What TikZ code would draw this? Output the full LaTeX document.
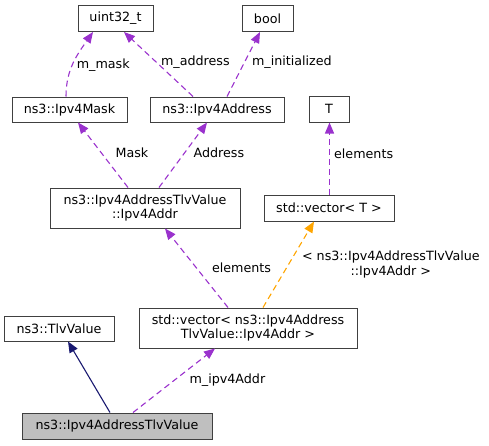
\documentclass[tikz,border=0pt]{standalone}
\usepackage{fontspec}
\setmainfont{DejaVu Sans}
\usetikzlibrary{arrows.meta}
\definecolor{orchid}{RGB}{154,50,205}
\definecolor{navy}{RGB}{25,25,112}
\definecolor{amber}{RGB}{255,165,0}
\begin{document}
\begin{tikzpicture}[x=1pt,y=-1pt,line width=1.1pt,font=\fontsize{12.7}{14.5}\selectfont]
    \tikzstyle{cls}=[draw=black!75,line width=1pt,fill=white,inner sep=0pt,minimum height=26pt,align=center]
    \tikzstyle{member}=[draw=orchid,dash pattern=on 6pt off 4pt,-{Triangle[length=11pt,width=9pt]}]
    \tikzstyle{tmpl}=[draw=amber,dash pattern=on 6pt off 4pt,-{Triangle[length=11pt,width=9pt]}]
    \tikzstyle{inherit}=[draw=navy,-{Triangle[length=11pt,width=9pt]}]
    \tikzstyle{lbl}=[right,inner sep=2pt,text=black,align=center]
    \useasboundingbox (0,0) rectangle (489,445);
    % the classes, top row first
      \node[cls, minimum width=75pt] (uint) at (115.5,18.5) {uint32\_t};
      \node[cls, minimum width=51pt] (bool) at (267.5,18.5) {bool};
      \node[cls, minimum width=115pt,minimum height=25pt] (mask) at (69.5,109.5) {ns3::Ipv4Mask};
      \node[cls, minimum width=134pt,minimum height=25pt] (addr) at (217,109.5) {ns3::Ipv4Address};
      \node[cls, minimum width=40pt] (T) at (329,109) {T};
      \node[cls, minimum width=190pt,minimum height=40pt] (addrval) at (145,208) {ns3::Ipv4AddressTlvValue\\::Ipv4Addr};
      \node[cls, minimum width=130pt] (vecT) at (329,208) {std::vector< T >};
      \node[cls, minimum width=110pt,minimum height=25pt] (tlv) at (59,328.5) {ns3::TlvValue};
      \node[cls, minimum width=218pt,minimum height=40pt] (vecaddr) at (248,328) {std::vector< ns3::Ipv4Address\\TlvValue::Ipv4Addr >};
      \node[cls, minimum width=190pt, fill=black!25] (main) at (117,426) {ns3::Ipv4AddressTlvValue};

      \path ([xshift=-3.5pt]mask.north) edge [member, out=90, in=-125] node [lbl,pos=0.45,xshift=2pt] {m\_mask} ([xshift=-22.5pt]uint.south);
      \path ([xshift=-24pt]addr.north) edge [member] node [lbl,yshift=2pt] {m\_address} ([xshift=8.5pt]uint.south);
      \path ([xshift=10pt]addr.north) edge [member] node [lbl,xshift=6pt,yshift=2pt] {m\_initialized} ([xshift=-7.5pt]bool.south);
      \path ([xshift=-17pt]addrval.north) edge [member] node [lbl,xshift=10pt,yshift=2pt] {Mask} ([xshift=8.5pt]mask.south);
      \path ([xshift=14pt]addrval.north) edge [member] node [lbl,xshift=8pt,yshift=2pt] {Address} ([xshift=-10pt]addr.south);
      \path ([xshift=0.5pt]vecT.north) edge [member, line width=1.3pt] node [lbl,xshift=2pt,yshift=5pt] {elements} ([xshift=0.5pt]T.south);
      \path ([xshift=-20pt]vecaddr.north) edge [member] node [lbl,xshift=13pt] {elements} ([xshift=20pt]addrval.south);
      \path ([xshift=15pt]vecaddr.north) edge [tmpl] node [lbl,xshift=11pt] {< ns3::Ipv4AddressTlvValue\\::Ipv4Addr >} ([xshift=-15pt]vecT.south);
      \path ([xshift=-7pt]main.north) edge [inherit] ([xshift=9pt]tlv.south);
      \path ([xshift=16pt]main.north) edge [member] node [lbl,xshift=13pt] {m\_ipv4Addr} ([xshift=-33pt]vecaddr.south);
\end{tikzpicture}
\end{document}
